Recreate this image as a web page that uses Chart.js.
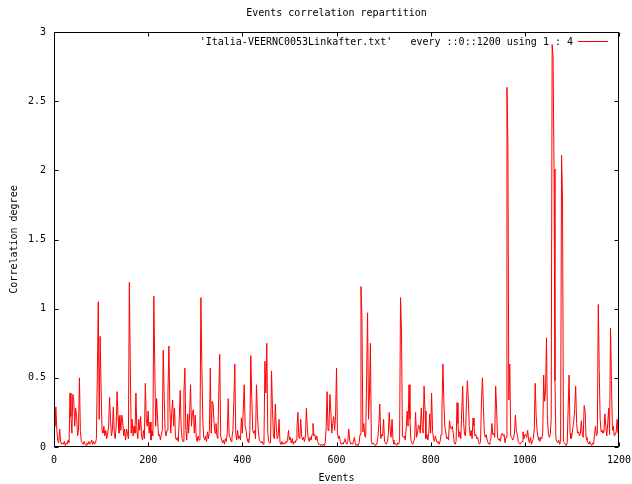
<!DOCTYPE html>
<html>
<head>
<meta charset="utf-8">
<title>Events correlation repartition</title>
<script src="https://cdn.jsdelivr.net/npm/chart.js@4/dist/chart.umd.min.js"></script>
<style>
  body { margin: 0; background: #fff; }
  canvas { display: block; }
</style>
</head>
<body>
<canvas id="corr" width="632" height="484"></canvas>
<script>
// one point every 2 events (0..1200), correlation degree
var eventStep = 2;
var degree = [
  0.22, 0.15, 0.29, 0.12, 0.05, 0.03, 0.13, 0.04, 0.02, 0.03,
  0.02, 0.04, 0.01, 0.03, 0.02, 0.05, 0.03, 0.39, 0.22, 0.10,
  0.38, 0.34, 0.15, 0.28, 0.22, 0.08, 0.12, 0.50, 0.12, 0.04,
  0.03, 0.02, 0.04, 0.02, 0.01, 0.03, 0.02, 0.04, 0.02, 0.03,
  0.05, 0.02, 0.04, 0.02, 0.03, 0.06, 0.52, 1.05, 0.20, 0.80,
  0.42, 0.12, 0.10, 0.15, 0.08, 0.12, 0.06, 0.10, 0.15, 0.36,
  0.20, 0.08, 0.12, 0.29, 0.10, 0.06, 0.15, 0.40, 0.22, 0.10,
  0.23, 0.12, 0.23, 0.18, 0.08, 0.13, 0.05, 0.13, 0.10, 0.06,
  1.19, 0.60, 0.10, 0.20, 0.08, 0.15, 0.10, 0.39, 0.12, 0.06,
  0.20, 0.12, 0.22, 0.08, 0.05, 0.12, 0.06, 0.46, 0.20, 0.15,
  0.26, 0.10, 0.18, 0.05, 0.12, 0.08, 1.09, 0.59, 0.15, 0.35,
  0.20, 0.08, 0.09, 0.05, 0.09, 0.12, 0.70, 0.36, 0.12, 0.08,
  0.12, 0.39, 0.73, 0.30, 0.10, 0.25, 0.34, 0.15, 0.28, 0.07,
  0.05, 0.07, 0.04, 0.20, 0.41, 0.15, 0.06, 0.04, 0.40, 0.57,
  0.12, 0.05, 0.24, 0.10, 0.24, 0.45, 0.15, 0.25, 0.27, 0.10,
  0.23, 0.07, 0.04, 0.08, 0.05, 0.10, 1.08, 0.59, 0.20, 0.07,
  0.05, 0.08, 0.04, 0.11, 0.06, 0.12, 0.57, 0.10, 0.33, 0.31,
  0.17, 0.10, 0.17, 0.08, 0.06, 0.40, 0.67, 0.08, 0.05, 0.03,
  0.05, 0.02, 0.06, 0.04, 0.10, 0.35, 0.08, 0.07, 0.04, 0.07,
  0.12, 0.33, 0.60, 0.10, 0.05, 0.12, 0.06, 0.08, 0.05, 0.21,
  0.10, 0.27, 0.45, 0.15, 0.12, 0.06, 0.04, 0.03, 0.12, 0.66,
  0.36, 0.12, 0.10, 0.12, 0.06, 0.45, 0.24, 0.12, 0.05, 0.04,
  0.03, 0.04, 0.02, 0.05, 0.62, 0.39, 0.75, 0.10, 0.04, 0.03,
  0.03, 0.55, 0.28, 0.08, 0.06, 0.31, 0.15, 0.06, 0.08, 0.20,
  0.03, 0.02, 0.04, 0.02, 0.03, 0.02, 0.04, 0.03, 0.05, 0.12,
  0.05, 0.07, 0.03, 0.06, 0.02, 0.04, 0.03, 0.05, 0.14, 0.25,
  0.07, 0.06, 0.20, 0.08, 0.05, 0.07, 0.04, 0.08, 0.28, 0.14,
  0.06, 0.04, 0.07, 0.05, 0.09, 0.17, 0.08, 0.09, 0.05, 0.08,
  0.04, 0.02, 0.02, 0.01, 0.02, 0.01, 0.02, 0.01, 0.03, 0.14,
  0.40, 0.12, 0.14, 0.38, 0.26, 0.10, 0.17, 0.22, 0.12, 0.22,
  0.57, 0.10, 0.06, 0.08, 0.04, 0.02, 0.03, 0.02, 0.04, 0.06,
  0.03, 0.02, 0.04, 0.13, 0.05, 0.02, 0.03, 0.02, 0.04, 0.07,
  0.02, 0.01, 0.02, 0.01, 0.03, 0.09, 1.16, 0.95, 0.11, 0.17,
  0.08, 0.07, 0.51, 0.97, 0.20, 0.39, 0.75, 0.04, 0.02, 0.03,
  0.02, 0.01, 0.02, 0.03, 0.07, 0.17, 0.31, 0.06, 0.09, 0.08,
  0.20, 0.04, 0.03, 0.02, 0.04, 0.09, 0.25, 0.12, 0.07, 0.20,
  0.05, 0.02, 0.03, 0.02, 0.01, 0.03, 0.02, 0.04, 1.08, 0.84,
  0.08, 0.07, 0.08, 0.05, 0.13, 0.26, 0.15, 0.45, 0.20, 0.05,
  0.03, 0.02, 0.04, 0.07, 0.25, 0.07, 0.10, 0.16, 0.15, 0.10,
  0.28, 0.14, 0.10, 0.44, 0.26, 0.06, 0.09, 0.05, 0.10, 0.24,
  0.10, 0.39, 0.12, 0.06, 0.04, 0.08, 0.05, 0.03, 0.04, 0.02,
  0.04, 0.09, 0.28, 0.60, 0.33, 0.15, 0.11, 0.06, 0.07, 0.05,
  0.19, 0.14, 0.13, 0.15, 0.10, 0.03, 0.02, 0.04, 0.32, 0.17,
  0.07, 0.11, 0.06, 0.26, 0.44, 0.17, 0.09, 0.08, 0.32, 0.48,
  0.34, 0.15, 0.08, 0.12, 0.06, 0.21, 0.15, 0.08, 0.09, 0.06,
  0.07, 0.03, 0.02, 0.04, 0.35, 0.50, 0.30, 0.10, 0.07, 0.09,
  0.05, 0.03, 0.02, 0.04, 0.06, 0.17, 0.09, 0.10, 0.07, 0.44,
  0.28, 0.07, 0.05, 0.06, 0.04, 0.09, 0.10, 0.08, 0.09, 0.03,
  0.07, 2.60, 2.21, 0.34, 0.60, 0.08, 0.07, 0.05, 0.06, 0.10,
  0.23, 0.12, 0.09, 0.04, 0.03, 0.02, 0.03, 0.04, 0.11, 0.06,
  0.09, 0.09, 0.07, 0.12, 0.05, 0.03, 0.07, 0.02, 0.04, 0.06,
  0.13, 0.46, 0.23, 0.12, 0.07, 0.05, 0.04, 0.07, 0.06, 0.10,
  0.52, 0.33, 0.41, 0.79, 0.20, 0.10, 0.07, 0.09, 0.20, 2.91,
  2.81, 2.01, 0.48, 0.06, 0.04, 0.03, 0.05, 0.02, 0.04, 2.11,
  1.80, 0.04, 0.03, 0.02, 0.01, 0.03, 0.28, 0.52, 0.10, 0.06,
  0.08, 0.14, 0.19, 0.28, 0.44, 0.17, 0.10, 0.11, 0.08, 0.10,
  0.19, 0.09, 0.07, 0.30, 0.26, 0.07, 0.05, 0.03, 0.02, 0.04,
  0.02, 0.01, 0.03, 0.02, 0.09, 0.15, 0.08, 0.10, 1.03, 0.56,
  0.20, 0.11, 0.12, 0.10, 0.11, 0.24, 0.15, 0.08, 0.17, 0.28,
  0.09, 0.86, 0.48, 0.12, 0.15, 0.08, 0.09, 0.11, 0.20, 0.10,
  0.20
];
var xTicks = [0, 200, 400, 600, 800, 1000, 1200];
var yTicks = [0, 0.5, 1, 1.5, 2, 2.5, 3];
var seriesLabel = "'Italia-VEERNC0053Linkafter.txt'   every ::0::1200 using 1 : 4";

var monoFont = { family: 'DejaVu Sans Mono', size: 10 };

// gnuplot style: black frame, ticks pointing inward on all four sides, key at top right
var gnuFrame = {
  id: 'gnuFrame',
  afterDatasetsDraw: function(chart) {
    var ctx = chart.ctx, a = chart.chartArea;
    var x = chart.scales.x, y = chart.scales.y;
    var l = Math.round(a.left) + 0.5, r = Math.round(a.right) - 0.5;
    var t = Math.round(a.top) + 0.5, b = Math.round(a.bottom) - 0.5;
    var len = 4;
    ctx.save();
    ctx.strokeStyle = '#000';
    ctx.lineWidth = 1;
    ctx.strokeRect(l, t, r - l, b - t);
    ctx.beginPath();
    xTicks.forEach(function(v) {
      var px = Math.round(x.getPixelForValue(v)) + 0.5;
      ctx.moveTo(px, b); ctx.lineTo(px, b - len);
      ctx.moveTo(px, t); ctx.lineTo(px, t + len);
    });
    yTicks.forEach(function(v) {
      var py = Math.round(y.getPixelForValue(v)) + 0.5;
      ctx.moveTo(l, py); ctx.lineTo(l + len, py);
      ctx.moveTo(r, py); ctx.lineTo(r - len, py);
    });
    ctx.stroke();

    // key
    ctx.font = '10px "DejaVu Sans Mono"';
    ctx.fillStyle = '#000';
    ctx.textAlign = 'right';
    ctx.textBaseline = 'middle';
    ctx.fillText(seriesLabel, 573, 42);
    ctx.strokeStyle = '#ff0000';
    ctx.beginPath();
    ctx.moveTo(578, 41.5); ctx.lineTo(608, 41.5);
    ctx.stroke();
    ctx.restore();
  }
};

new Chart(document.getElementById('corr').getContext('2d'), {
  type: 'line',
  data: {
    datasets: [{
      label: seriesLabel,
      data: degree.map(function(v, i) { return { x: i * eventStep, y: v }; }),
      borderColor: '#ff0000',
      borderWidth: 1,
      pointRadius: 0,
      tension: 0,
      fill: false
    }]
  },
  options: {
    responsive: false,
    animation: false,
    devicePixelRatio: 1,
    layout: { padding: { left: 0, right: 13, top: 0, bottom: 0 } },
    plugins: {
      legend: { display: false },
      tooltip: { enabled: false },
      title: {
        display: true,
        text: 'Events correlation repartition',
        fullSize: false,
        color: '#000',
        font: { family: 'DejaVu Sans Mono', size: 10, weight: 'normal' },
        padding: { top: 7, bottom: 13 }
      }
    },
    scales: {
      x: {
        type: 'linear',
        min: 0,
        max: 1200,
        grid: { display: false, drawTicks: false },
        border: { display: false },
        ticks: {
          stepSize: 200,
          autoSkip: false,
          maxRotation: 0,
          padding: 7,
          color: '#000',
          font: monoFont,
          callback: function(v) { return String(v); }
        },
        title: {
          display: true,
          text: 'Events',
          color: '#000',
          font: monoFont,
          padding: { top: 0, bottom: 0 }
        },
        afterFit: function(scale) {
          scale.height = 37;
          // let the last label run to the canvas edge like gnuplot does
          scale.paddingLeft = 0;
          scale.paddingRight = 0;
        }
      },
      y: {
        min: 0,
        max: 3,
        grid: { display: false, drawTicks: false },
        border: { display: false },
        ticks: {
          stepSize: 0.5,
          padding: 8,
          color: '#000',
          font: monoFont,
          callback: function(v) { return String(v); }
        },
        title: {
          display: true,
          text: 'Correlation degree',
          color: '#000',
          font: monoFont,
          padding: { top: 8, bottom: 0 }
        },
        afterFit: function(scale) { scale.width = 54; }
      }
    }
  },
  plugins: [gnuFrame]
});
</script>
</body>
</html>
